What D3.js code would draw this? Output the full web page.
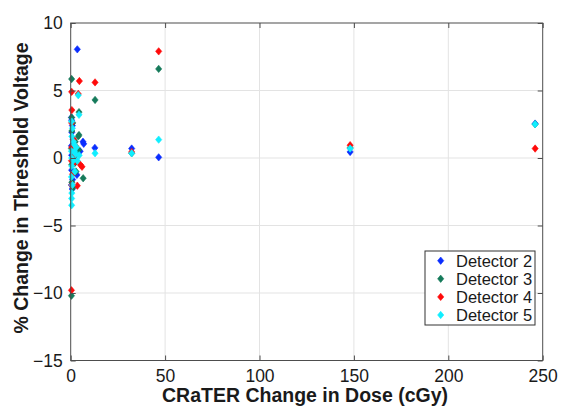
<!DOCTYPE html>
<html>
<head>
<meta charset="utf-8">
<script src="https://cdn.jsdelivr.net/npm/d3@7"></script>
<style>
  body { margin: 0; background: #fff; }
  text { font-family: "Liberation Sans", Arial, Helvetica, sans-serif; fill: #1a1a1a; }
  .tick_label { font-size: 17.5px; }
  .axis_label { font-size: 19.5px; font-weight: bold; }
  .legend_label { font-size: 16.5px; }
</style>
</head>
<body>
<script>
var margin = {top: 23, bottom: 50.5, left: 70.7, right: 18.3};
var width = 561 - margin.left - margin.right;
var height = 411 - margin.top - margin.bottom;

// tick values
var xTicks = [0, 50, 100, 150, 200, 250];
var yTicks = [-15, -10, -5, 0, 5, 10];

// legend names + colours
var detectors = ["Detector 2", "Detector 3", "Detector 4", "Detector 5"];
var colors = ["#0a2dff", "#157a5a", "#ff0a0a", "#10eeff"];

// Detector 2 (dose cGy, % change)
var dose2   = [0.4, 0.5, 0.9, 0.6, 1.2, 0.4, 1.8, 0.5, 2.2, 0.5, 1.0, 0.4, 0.8, 3.5, 6.5, 6.9, 5.0, 3.3, 2.5, 1.5, 12.8, 32.3, 46.6, 148, 246];
var change2 = [3.0, 2.8, 2.4, 1.9, 1.4, 0.9, 0.6, 0.2, -0.3, -0.9, -1.6, -2.0, -2.3, 8.05, 1.2, 1.05, 0.5, -1.25, -0.3, 0.4, 0.75, 0.7, 0.05, 0.45, 2.55];

// Detector 3
var dose3   = [0.5, 0.4, 4.4, 4.4, 4.0, 4.2, 6.6, 12.9, 0.5, 1.1, 0.6, 2.4, 0.4, 1.6, 0.5, 2.8, 0.6, 1.2, 2.0, 3.0, 32.3, 46.6, 148, 246];
var change3 = [5.85, -10.2, 3.4, 1.7, 1.6, 0.6, -1.5, 4.3, 3.0, 2.6, 2.0, 1.2, 0.7, 0.0, -0.5, -1.0, -1.8, -2.2, -0.4, 0.3, 0.35, 6.6, 0.75, 2.5];

// Detector 4
var dose4   = [0.5, 0.6, 4.6, 12.9, 4.0, 0.4, 5.1, 6.0, 3.5, 0.5, 1.4, 0.6, 2.0, 0.4, 1.0, 0.6, 2.5, 1.5, 32.3, 46.6, 148, 246];
var change4 = [4.9, 3.55, 5.7, 5.6, 4.75, -9.8, -0.5, -0.65, -2.05, 2.6, 1.4, 0.8, 0.2, -0.2, -1.2, -2.0, 0.9, -0.4, 0.45, 7.9, 0.95, 0.7];

// Detector 5
var dose5   = [0.5, 4.0, 4.4, 12.9, 0.5, 0.9, 0.6, 1.8, 0.4, 2.6, 0.5, 1.3, 0.6, 2.2, 0.4, 0.9, 0.6, 0.5, 3.0, 4.5, 2.0, 3.5, 1.5, 32.3, 46.6, 148, 246];
var change5 = [-3.5, 4.65, 3.2, 0.35, 2.7, 2.2, 1.6, 1.0, 0.5, 0.3, 0.0, -0.2, -0.6, -1.0, -1.4, -2.0, -2.6, -3.0, 0.8, 0.2, 0.5, -0.2, 1.2, 0.35, 1.36, 0.7, 2.5];

var series = [
  {name: detectors[0], x: dose2, y: change2},
  {name: detectors[1], x: dose3, y: change3},
  {name: detectors[2], x: dose4, y: change4},
  {name: detectors[3], x: dose5, y: change5}
];

var svg = d3.select("body")
            .append("svg")
            .attr("width", 561)
            .attr("height", 411);

var xScale = d3.scaleLinear().domain([0, 250]).range([0, width]);
var yScale = d3.scaleLinear().domain([-15, 10]).range([height, 0]);

var plot = svg.append("g")
              .attr("transform", "translate(" + margin.left + "," + margin.top + ")");

// grid
plot.selectAll(".xgrid")
    .data(xTicks.slice(1, -1))
    .enter().append("line")
    .attr("x1", function(d){ return xScale(d); })
    .attr("x2", function(d){ return xScale(d); })
    .attr("y1", 0).attr("y2", height)
    .attr("stroke", "#e3e3e3");

plot.selectAll(".ygrid")
    .data(yTicks.slice(1, -1))
    .enter().append("line")
    .attr("y1", function(d){ return yScale(d); })
    .attr("y2", function(d){ return yScale(d); })
    .attr("x1", 0).attr("x2", width)
    .attr("stroke", "#e3e3e3");

// diamond marker
function diamond(cx, cy) {
  return "M" + cx + "," + (cy - 3.7) + "L" + (cx + 3.1) + "," + cy +
         "L" + cx + "," + (cy + 3.7) + "L" + (cx - 3.1) + "," + cy + "Z";
}

series.forEach(function(s, i){
  var pts = s.x.map(function(d, j){ return [d, s.y[j]]; });
  plot.append("g")
      .selectAll("path")
      .data(pts)
      .enter().append("path")
      .attr("d", function(d){ return diamond(xScale(d[0]), yScale(d[1])); })
      .attr("fill", colors[i])
      .attr("stroke", colors[i])
      .attr("stroke-width", 0.6);
});

// box
plot.append("rect")
    .attr("width", width).attr("height", height)
    .attr("fill", "none")
    .attr("stroke", "#4d4d4d")
    .attr("stroke-width", 1);

// axes (ticks inward)
var xAxis = d3.axisBottom(xScale).tickValues(xTicks).tickSize(-5).tickPadding(9);
var yAxis = d3.axisLeft(yScale).tickValues(yTicks).tickSize(-5).tickPadding(8);

plot.append("g")
    .attr("transform", "translate(0," + height + ")")
    .call(xAxis)
    .call(function(g){ g.select(".domain").remove(); });

plot.append("g")
    .call(yAxis)
    .call(function(g){ g.select(".domain").remove(); });

// top/right ticks
plot.append("g")
    .call(d3.axisTop(xScale).tickValues(xTicks).tickSize(-5).tickFormat(""))
    .call(function(g){ g.select(".domain").remove(); });
plot.append("g")
    .attr("transform", "translate(" + width + ",0)")
    .call(d3.axisRight(yScale).tickValues(yTicks).tickSize(-5).tickFormat(""))
    .call(function(g){ g.select(".domain").remove(); });

plot.selectAll(".tick line").attr("stroke", "#4d4d4d");
plot.selectAll(".tick text")
    .attr("class", "tick_label")
    .attr("font-family", null)
    .attr("font-size", null)
    .style("fill", "#1a1a1a");

// axis labels
svg.append("text")
   .attr("class", "axis_label")
   .attr("text-anchor", "middle")
   .attr("x", 305)
   .attr("y", 402)
   .text("CRaTER Change in Dose (cGy)");

svg.append("text")
   .attr("class", "axis_label")
   .attr("text-anchor", "middle")
   .attr("transform", "translate(28,188) rotate(-90)")
   .text("% Change in Threshold Voltage");

// legend
var legend = svg.append("g").attr("transform", "translate(425,251)");
legend.append("rect")
      .attr("width", 110).attr("height", 74)
      .attr("fill", "#fff")
      .attr("stroke", "#333")
      .attr("stroke-width", 1);

var rows = legend.selectAll(".row")
                 .data(detectors)
                 .enter().append("g")
                 .attr("transform", function(d, i){ return "translate(0," + (9.7 + 18.1 * i) + ")"; });

rows.append("path")
    .attr("d", diamond(15.7, 0))
    .attr("fill", function(d, i){ return colors[i]; })
    .attr("stroke", function(d, i){ return colors[i]; })
    .attr("stroke-width", 0.6);

rows.append("text")
    .attr("class", "legend_label")
    .attr("x", 31)
    .attr("y", 6)
    .text(function(d){ return d; });
</script>
</body>
</html>
